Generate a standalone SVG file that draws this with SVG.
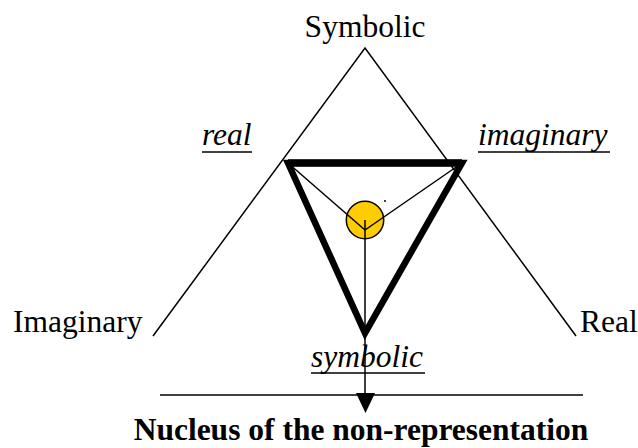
<svg xmlns="http://www.w3.org/2000/svg" width="638" height="448" viewBox="0 0 638 448">
<style>
text{font-family:'Liberation Serif','Times New Roman','DejaVu Serif',serif;font-size:31.5px;fill:#000}
.i{font-style:italic}
.b{font-weight:bold}
.thin{stroke:#000;stroke-width:1.5;fill:none}
.thick{stroke:#000;stroke-width:6.5;fill:none;stroke-linejoin:miter}
</style>
<g id="labels" font-family="Liberation Serif, serif">
<text id="lbl-symbolic" x="365" y="37" text-anchor="middle">Symbolic</text>
<text id="lbl-imaginary" x="13" y="332">Imaginary</text>
<text id="lbl-real" x="580" y="332">Real</text>
<text id="lbl-real-i" class="i" x="202" y="145">real</text>
<text id="lbl-imaginary-i" class="i" x="478" y="145">imaginary</text>
<text id="lbl-symbolic-i" class="i" x="311" y="367">symbolic</text>
<text id="lbl-nucleus" class="b" x="361" y="440" text-anchor="middle">Nucleus of the non-representation</text>
<g class="thin">
<line x1="202" y1="152" x2="252" y2="152"/>
<line x1="478" y1="152" x2="610" y2="152"/>
<line x1="311" y1="373" x2="425" y2="373"/>
</g>
</g>
<g id="outer-triangle">
<polyline class="thin" points="153,336 365,48 576,336"/>
</g>
<g id="base-line">
<line class="thin" x1="160" y1="395" x2="583" y2="395"/>
</g>
<g id="inner-triangle">
<polygon class="thick" points="288,163 462,163 365,333"/>
<line x1="288" y1="163" x2="462" y2="163" stroke="#000" stroke-width="7.5"/>
</g>
<g id="nucleus">
<circle cx="365" cy="220" r="18.7" fill="#FFCC00" stroke="#000" stroke-width="1.5"/>
<circle cx="385" cy="201" r="1" fill="#000"/>
</g>
<g id="connectors">
<line class="thin" x1="288" y1="163" x2="365" y2="230"/>
<line class="thin" x1="462" y1="163" x2="365" y2="230"/>
<line class="thin" x1="365" y1="220" x2="365" y2="394"/>
<polygon points="356,393 375,393 365.5,413" fill="#000"/>
</g>
</svg>
